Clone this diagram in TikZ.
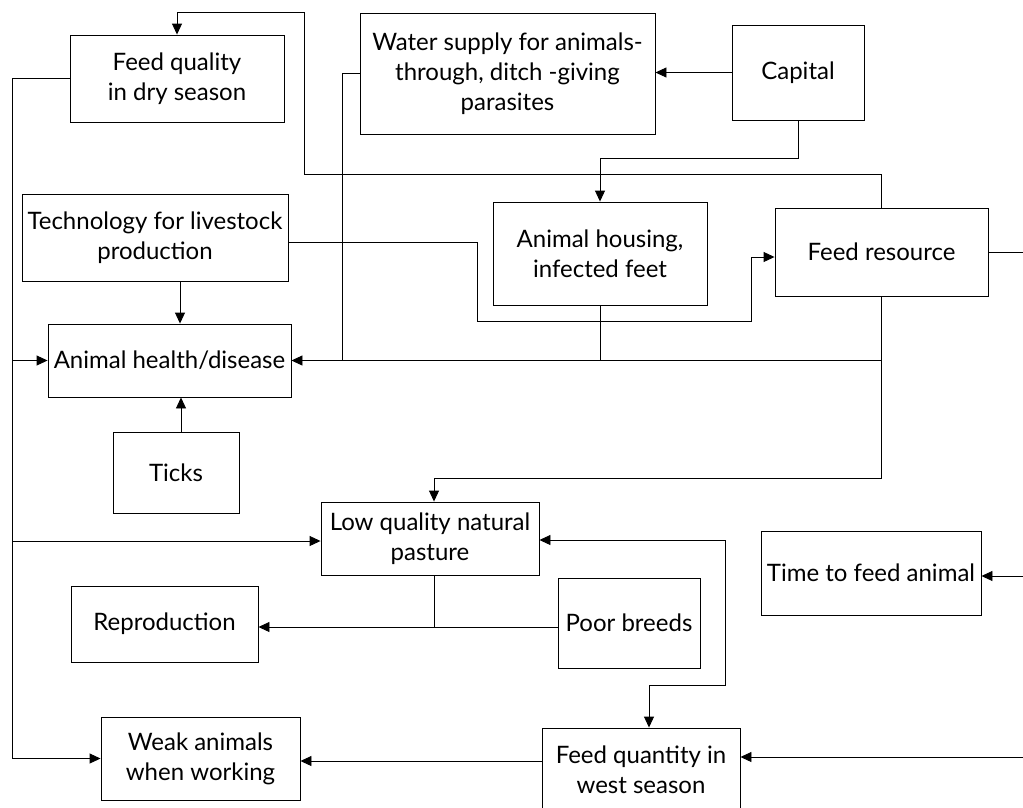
\documentclass[tikz,border=0pt]{standalone}
\usepackage{fontspec}
\setmainfont{Lato}
\usetikzlibrary{arrows.meta}
\begin{document}
\begin{tikzpicture}[x=1pt,y=-1pt,
  box/.style={draw, line width=0.9pt, align=center, inner sep=0pt, font=\fontsize{24}{30}\selectfont},
  ln/.style={line width=0.9pt},
  arr/.style={ln, -{Triangle[length=11pt,width=10pt]}},
  darr/.style={ln, {Triangle[length=11pt,width=10pt]}-{Triangle[length=11pt,width=10pt]}}]
\useasboundingbox (0,0) rectangle (1023,807);
% nodes
\node[box, minimum width=214pt, minimum height=87pt] (fq) at (177,78.5) {Feed quality\\in dry season};
\node[box, minimum width=295pt, minimum height=121pt] (ws) at (507.5,73.5) {Water supply for animals-\\through, ditch -giving\\parasites};
\node[box, minimum width=132pt, minimum height=95pt] (cap) at (798,72.5) {Capital};
\node[box, minimum width=266pt, minimum height=87pt] (tech) at (155,237.5) {Technology for livestock\\production};
\node[box, minimum width=214pt, minimum height=103pt] (ah) at (600,253.5) {Animal housing,\\infected feet};
\node[box, minimum width=213pt, minimum height=88pt] (fr) at (881.5,252) {Feed resource};
\node[box, minimum width=243pt, minimum height=73pt] (hd) at (169.5,360.5) {Animal health/disease};
\node[box, minimum width=126pt, minimum height=81pt] (ticks) at (176,472.5) {Ticks};
\node[box, minimum width=218pt, minimum height=73pt] (lq) at (430,538.5) {Low quality natural\\pasture};
\node[box, minimum width=220pt, minimum height=84pt] (ttf) at (871,573) {Time to feed animal};
\node[box, minimum width=187pt, minimum height=76pt] (rep) at (164.5,624) {Reproduction};
\node[box, minimum width=142pt, minimum height=90pt] (pb) at (629,623) {Poor breeds};
\node[box, minimum width=199pt, minimum height=83pt] (wk) at (200.5,758.5) {Weak animals\\when working};
\node[box, minimum width=198pt, minimum height=84pt] (fqt) at (641,770) {Feed quantity in\\west season};
% bus points
\coordinate (bh) at (12,360.5);
\coordinate (bl) at (12,541);
\coordinate (jr) at (881.5,360.5);
\coordinate (e1) at (1023,252);
\coordinate (e2) at (1023,576);
\coordinate (e3) at (1023,757);
% connectors
\draw[arr] (fr.north) -- (881.5,174) -- (304,174) -- (304,12) -- (177,12) -- (fq.north);
\draw[arr] (cap.west) -- (cap.west -| ws.east);
\draw[arr] (cap.south) -- (798,158) -- (600,158) -- (ah.north);
\draw[arr] ([yshift=-4.5pt]tech.east) -- (477,242) -- (477,321) -- (751,321) -- (751,257) -- ([yshift=-5pt]fr.west);
\draw[arr] ([xshift=25pt]tech.south) -- ([xshift=10.5pt]hd.north);
\draw[arr] ([xshift=5pt]ticks.north) -- ([xshift=11.5pt]hd.south);
\draw[arr] (fq.west) -- (12,78.5) -- (12,758.5) -- (wk.west);
\draw[arr] (bh) -- (hd.west);
\draw[arr] (bl) -- ([yshift=-2.5pt]lq.west);
\draw[arr] (fr.south) -- (jr) -- (hd.east);
\draw[arr] (jr) -- (881.5,478) -- (434,478) -- ([xshift=4pt]lq.north);
\draw[ln] (ws.west) -- (342,73.5) -- (342,360.5);
\draw[ln] (ah.south) -- (600,360.5);
\draw[ln] ([xshift=4pt]lq.south) -- (434,627);
\draw[arr] ([yshift=-4pt]pb.west) -- ([yshift=-3pt]rep.east);
\draw[darr] ([yshift=-1.5pt]lq.east) -- (725,540) -- (725,685) -- (649,685) -- ([xshift=8pt]fqt.north);
\draw[arr] ([yshift=9pt]fqt.west) -- ([yshift=-2.5pt]wk.east);
\draw[ln] (fr.east) -- (e1);
\draw[arr] (e2) -- ([yshift=-3pt]ttf.east);
\draw[arr] (e3) -- ([yshift=13pt]fqt.east);
\end{tikzpicture}
\end{document}
